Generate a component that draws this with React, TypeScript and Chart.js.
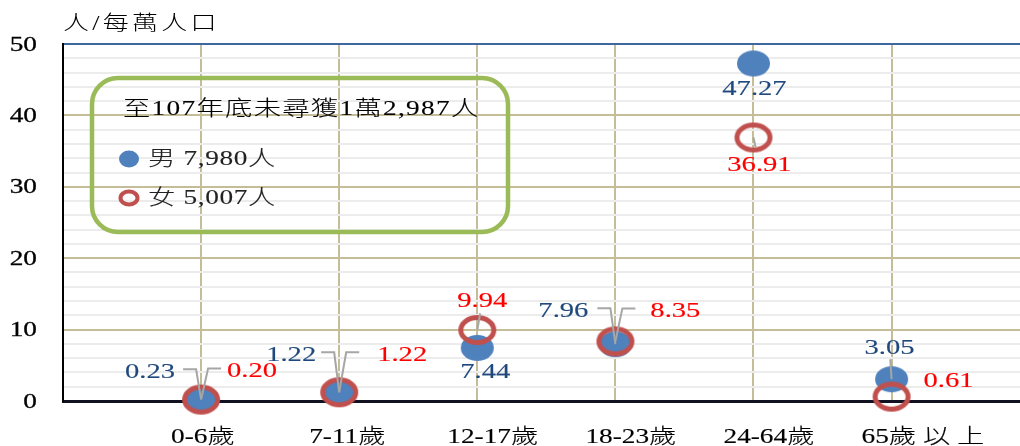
import React, { useEffect, useRef } from 'react';
import { Chart, registerables } from 'chart.js';

Chart.register(...registerables);

// ---------- data ----------
const categories = ['0-6歲', '7-11歲', '12-17歲', '18-23歲', '24-64歲', '65歲 以 上'];
const maleValues = [0.23, 1.22, 7.44, 7.96, 47.27, 3.05];
const femaleValues = [0.2, 1.22, 9.94, 8.35, 36.91, 0.61];
const yMin = 0;
const yMax = 50;
const yLabelStep = 10;
const axisTitle = '人/每萬人口';
const legendTitle = '至107年底未尋獲1萬2,987人';
const legendLabels = ['男 7,980人', '女 5,007人'];

// ---------- label layout (offsets from the point, leader style) ----------
type Leader = null | { type: 'L' | 'R' } | { type: 'S'; len: number };
type LabelPos = { dx: number; dy: number; leader: Leader };
const maleLabelLayout: LabelPos[] = [
  { dx: -51, dy: -27, leader: { type: 'L' } },
  { dx: -48, dy: -37, leader: { type: 'L' } },
  { dx: 8, dy: 24, leader: null },
  { dx: -52, dy: -33, leader: { type: 'L' } },
  { dx: 1, dy: 26, leader: null },
  { dx: -2, dy: -31, leader: { type: 'S', len: 20 } },
];
const femaleLabelLayout: LabelPos[] = [
  { dx: 51, dy: -28, leader: { type: 'R' } },
  { dx: 63, dy: -37, leader: { type: 'R' } },
  { dx: 5, dy: -29, leader: { type: 'S', len: 17 } },
  { dx: 60, dy: -30, leader: { type: 'R' } },
  { dx: 6, dy: 28, leader: { type: 'S', len: 10 } },
  { dx: 57, dy: -15, leader: null },
];

const MALE_FILL = '#4f81bd';
const FEMALE_STROKE = '#c0504d';
const MALE_TEXT = '#1f497d';
const FEMALE_TEXT = '#ff0000';
const GRID_MAJOR = '#c4bd97';
const GRID_MINOR = '#ececec';
const SX = 1.3;
const FONT = (px: number, w = 400) => `${w} ${px}px "Liberation Serif", "Noto Sans CJK TC", serif`;

function sText(
  ctx: CanvasRenderingContext2D,
  text: string,
  x: number,
  y: number,
  size: number,
  color: string,
  align: CanvasTextAlign,
  spacing = 0,
  weight = 0.2,
  fw = 400
) {
  ctx.save();
  ctx.translate(x, y);
  ctx.scale(SX, 1);
  ctx.font = FONT(size, fw);
  ctx.fillStyle = color;
  ctx.strokeStyle = color;
  ctx.lineWidth = weight;
  ctx.textAlign = align;
  ctx.textBaseline = 'middle';
  (ctx as any).letterSpacing = spacing + 'px';
  ctx.fillText(text, 0, 0);
  if (weight > 0) ctx.strokeText(text, 0, 0);
  ctx.restore();
}

function ellipseCanvas(rx: number, ry: number, fill: string | null, stroke: string | null, lw: number) {
  const c = document.createElement('canvas');
  const pad = lw / 2 + 1;
  c.width = Math.ceil(2 * (rx + pad));
  c.height = Math.ceil(2 * (ry + pad));
  const g = c.getContext('2d')!;
  g.beginPath();
  g.ellipse(c.width / 2, c.height / 2, rx, ry, 0, 0, Math.PI * 2);
  if (fill) {
    g.fillStyle = fill;
    g.fill();
  }
  if (stroke) {
    g.strokeStyle = stroke;
    g.lineWidth = lw;
    g.stroke();
  }
  return c;
}

const decorPlugin = {
  id: 'decor',
  afterDatasetsDraw(chart: any) {
    const ctx: CanvasRenderingContext2D = chart.ctx;
    const sets = [
      { meta: chart.getDatasetMeta(0), vals: maleValues, layout: maleLabelLayout, color: MALE_TEXT },
      { meta: chart.getDatasetMeta(1), vals: femaleValues, layout: femaleLabelLayout, color: FEMALE_TEXT },
    ];
    // leader lines
    ctx.save();
    ctx.strokeStyle = '#a6a6a6';
    ctx.lineWidth = 2;
    sets.forEach((s) => {
      s.meta.data.forEach((el: any, i: number) => {
        const L = s.layout[i];
        if (!L.leader) return;
        const px = el.x;
        const py = el.y;
        const lx = px + L.dx;
        const ly = py + L.dy;
        ctx.beginPath();
        if (L.leader.type === 'L') {
          ctx.moveTo(px - 18, ly - 3);
          ctx.lineTo(px - 5, ly - 3);
          ctx.lineTo(px, py);
        } else if (L.leader.type === 'R') {
          ctx.moveTo(px + 20, ly - 3);
          ctx.lineTo(px + 7, ly - 3);
          ctx.lineTo(px, py);
        } else {
          const vx = lx - px;
          const vy = ly - py;
          const d = Math.hypot(vx, vy) || 1;
          const len = (L.leader as any).len;
          ctx.moveTo(px, py);
          ctx.lineTo(px + (vx / d) * len, py + (vy / d) * len);
        }
        ctx.stroke();
      });
    });
    ctx.restore();
    // data labels
    sets.forEach((s) => {
      s.meta.data.forEach((el: any, i: number) => {
        const L = s.layout[i];
        sText(ctx, s.vals[i].toFixed(2), el.x + L.dx, el.y + L.dy, 22, s.color, 'center', 0, 0.15);
      });
    });
  },
  afterDraw(chart: any) {
    const ctx: CanvasRenderingContext2D = chart.ctx;
    const xs = chart.scales.x;
    const ys = chart.scales.y;
    // y tick labels
    ys.ticks.forEach((t: any) => {
      if (t.value % yLabelStep !== 0) return;
      sText(ctx, String(t.value), 37, ys.getPixelForValue(t.value) + 1, 21, '#000', 'right', 0, 0.3);
    });
    // x tick labels
    xs.ticks.forEach((t: any) => {
      const idx = t.value - 1;
      if (idx < 0 || idx >= categories.length || !Number.isInteger(t.value)) return;
      sText(ctx, categories[idx], xs.getPixelForValue(t.value) - 30, 437, 21, '#000', 'left', 0, 0.15, 300);
    });
    // axis title
    sText(ctx, axisTitle, chart.chartArea.left, 25, 20, '#000', 'left', 2.5, 0, 300);

    // legend box
    ctx.save();
    ctx.strokeStyle = '#9bbb59';
    ctx.lineWidth = 4.5;
    ctx.beginPath();
    (ctx as any).roundRect(92, 78, 416, 154, 26);
    ctx.stroke();
    ctx.restore();
    sText(ctx, legendTitle, 123, 109, 21, '#000', 'left', 1, 0.1, 300);
    ctx.save();
    ctx.beginPath();
    ctx.ellipse(129, 159, 10, 8.5, 0, 0, Math.PI * 2);
    ctx.fillStyle = MALE_FILL;
    ctx.fill();
    ctx.beginPath();
    ctx.ellipse(129, 198, 8.5, 6.5, 0, 0, Math.PI * 2);
    ctx.strokeStyle = FEMALE_STROKE;
    ctx.lineWidth = 4;
    ctx.stroke();
    ctx.restore();
    sText(ctx, legendLabels[0], 148, 159, 21, '#222', 'left', 0.5, 0.1, 300);
    sText(ctx, legendLabels[1], 148, 198, 21, '#222', 'left', 0.5, 0.1, 300);
  },
};

export default function App() {
  const ref = useRef<HTMLCanvasElement | null>(null);
  useEffect(() => {
    if (!ref.current) return;
    const maleStyle = ellipseCanvas(16.5, 13, MALE_FILL, null, 0);
    const femaleStyle = ellipseCanvas(16.5, 12.5, null, FEMALE_STROKE, 5);
    const chart = new Chart(ref.current, {
      type: 'scatter',
      data: {
        datasets: [
          {
            label: '男',
            data: maleValues.map((v, i) => ({ x: i + 1, y: v })),
            pointStyle: maleStyle as any,
            pointRadius: 16,
            order: 1,
            clip: false as any,
          },
          {
            label: '女',
            data: femaleValues.map((v, i) => ({ x: i + 1, y: v })),
            pointStyle: femaleStyle as any,
            pointRadius: 16,
            order: 0,
            clip: false as any,
          },
        ],
      },
      options: {
        animation: false,
        responsive: false,
        events: [],
        layout: { autoPadding: false, padding: { left: 63, top: 44, right: 0, bottom: 45 } },
        plugins: { legend: { display: false }, tooltip: { enabled: false } },
        scales: {
          x: {
            type: 'linear',
            min: 0,
            max: 6.93,
            ticks: { stepSize: 1, display: false, includeBounds: false },
            grid: {
              drawTicks: false,
              lineWidth: 2,
              color: (c: any) =>
                c.tick && Number.isInteger(c.tick.value) && c.tick.value > 0 ? GRID_MAJOR : 'rgba(0,0,0,0)',
            },
            border: { color: '#111122', width: 3 },
          },
          y: {
            min: yMin,
            max: yMax,
            ticks: { stepSize: 2, display: false },
            grid: {
              drawTicks: false,
              lineWidth: 2,
              color: (c: any) => {
                const v = c.tick ? c.tick.value : 0;
                if (v === yMax) return '#41679f';
                if (v % yLabelStep === 0) return GRID_MAJOR;
                return GRID_MINOR;
              },
            },
            border: { color: '#000', width: 2 },
          },
        },
      },
      plugins: [decorPlugin],
    });
    return () => chart.destroy();
  }, []);
  return (
    <div style={{ position: 'fixed', left: 0, top: 0, width: 1020, height: 446, background: '#fff' }}>
      <canvas ref={ref} width={1020} height={446} style={{ display: 'block', width: 1020, height: 446 }} />
    </div>
  );
}
